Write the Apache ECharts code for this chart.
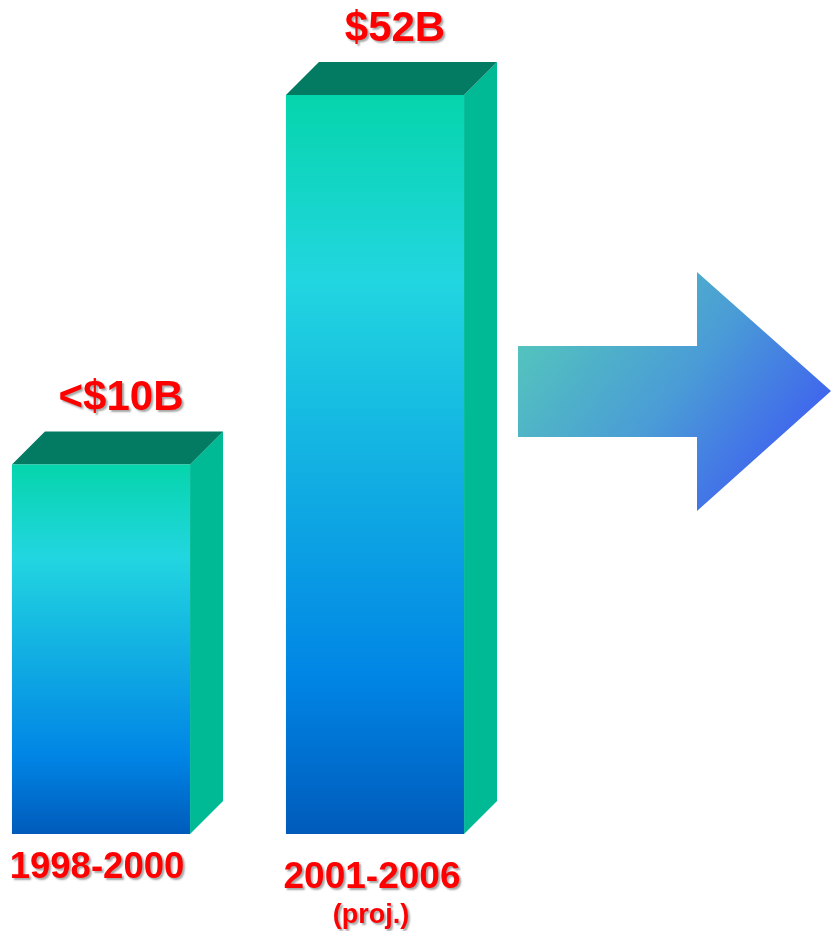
<!DOCTYPE html>
<html>
<head>
<meta charset="utf-8">
<script src="https://cdn.jsdelivr.net/npm/echarts@6/dist/echarts.min.js"></script>
<style>html,body{margin:0;padding:0;background:#fff}#c{width:831px;height:931px}</style>
</head>
<body>
<div id="c"></div>
<script>
// Data
var categories = ['1998-2000', '2001-2006'];
var categoryNotes = ['', '(proj.)'];
// drawn bar heights (the original graphic is not to scale)
var barHeights = [10, 20];
var valueLabels = ['<$10B', '$52B'];

var FONT = '"Liberation Sans", Arial, Helvetica, sans-serif';
var DEPTH = 33;
var chart = echarts.init(document.getElementById('c'), null, {renderer: 'canvas'});

var frontGradient = new echarts.graphic.LinearGradient(0, 0, 0, 1, [
  {offset: 0, color: '#05D5AC'},
  {offset: 0.25, color: '#22D6E0'},
  {offset: 0.79, color: '#0085E5'},
  {offset: 1, color: '#005BBB'}
]);

var shadow = {textShadowColor: 'rgba(0,0,0,0.35)', textShadowOffsetX: 2, textShadowOffsetY: 2, textShadowBlur: 2};

function renderItem(params, api) {
  var idx = api.value(0);
  var top = api.coord([idx, api.value(1)]);
  var base = api.coord([idx, 0]);
  var step = Math.abs(api.coord([1, 0])[0] - api.coord([0, 0])[0]);
  var w = step * 0.65;
  var x0 = top[0] - w / 2, x1 = top[0] + w / 2;
  var yT = top[1], yB = base[1];
  var d = DEPTH;
  return {
    type: 'group',
    children: [
      {type: 'polygon', shape: {points: [[x1, yT], [x1 + d, yT - d], [x1 + d, yB - d], [x1, yB]]}, style: {fill: '#00BA95'}},
      {type: 'polygon', shape: {points: [[x0, yT], [x0 + d, yT - d], [x1 + d, yT - d], [x1, yT]]}, style: {fill: '#027B62'}},
      {type: 'rect', shape: {x: x0, y: yT, width: w, height: yB - yT}, style: {fill: frontGradient}},
      {type: 'text', x: top[0] + 20, y: yT - d - 12,
        style: Object.assign({text: valueLabels[params.dataIndex], fill: '#FF0000', font: 'bold 42px ' + FONT, align: 'center', verticalAlign: 'bottom'}, shadow)}
    ]
  };
}

var option = {
  backgroundColor: '#ffffff',
  animation: false,
  grid: {left: 101, width: 274, top: 95, bottom: 97, containLabel: false, outerBoundsMode: 'none'},
  xAxis: {
    type: 'category',
    boundaryGap: false,
    data: categories,
    axisLine: {show: false}, axisTick: {show: false},
    axisLabel: {
      margin: 13,
      formatter: function (v, i) {
        return categoryNotes[i] ? '{b|' + v + '}\n{n|' + categoryNotes[i] + '}' : '{a|' + v + '}';
      },
      rich: {
        a: Object.assign({color: '#FF0000', fontWeight: 'bold', fontSize: 36.5, fontFamily: FONT, lineHeight: 42, padding: [0, 8, 0, 0]}, shadow),
        b: Object.assign({color: '#FF0000', fontWeight: 'bold', fontSize: 37, fontFamily: FONT, lineHeight: 62, padding: [0, 6, 0, 0]}, shadow),
        n: Object.assign({color: '#FF0000', fontWeight: 'bold', fontSize: 27, fontFamily: FONT, lineHeight: 13, padding: [0, 8, 0, 0]}, shadow)
      }
    }
  },
  yAxis: {type: 'value', min: 0, max: 20, show: false, splitLine: {show: false}},
  series: [{
    type: 'custom',
    renderItem: renderItem,
    data: barHeights.map(function (v, i) { return [i, v]; }),
    clip: false
  }],
  graphic: [{
    type: 'polygon',
    shape: {points: [[518, 346], [697, 346], [697, 272], [831, 391], [697, 511], [697, 437], [518, 437]]},
    style: {
      fill: new echarts.graphic.LinearGradient(0, 0, 1, 1, [
        {offset: 0, color: '#56CFB6'},
        {offset: 0.5, color: '#4A9CD6'},
        {offset: 1, color: '#3A48FA'}
      ])
    }
  }]
};
chart.setOption(option);
</script>
</body>
</html>
